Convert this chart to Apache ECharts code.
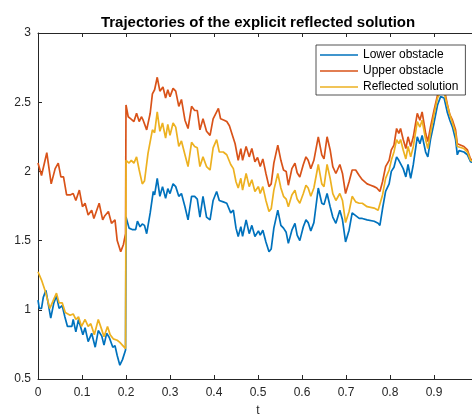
<!DOCTYPE html>
<html>
<head>
<meta charset="utf-8">
<script src="https://cdn.jsdelivr.net/npm/echarts@6/dist/echarts.min.js"></script>
<style>
  html, body { margin: 0; padding: 0; background: #fff; overflow: hidden; }
  #chart { width: 484px; height: 416px; }
</style>
</head>
<body>
<div id="chart"></div>
<script>
// 读图得到的三条轨迹 (t, 值)
const tLower = [
  0, 0.003, 0.008, 0.012, 0.018, 0.029, 0.036, 0.042, 0.048, 0.055, 0.061, 0.067, 0.077, 0.080, 0.086, 0.092,
  0.102, 0.107, 0.114, 0.122, 0.130, 0.137, 0.145, 0.150, 0.156, 0.162, 0.170, 0.175, 0.180, 0.186, 0.192, 0.199,
  0.200, 0.207, 0.214, 0.222, 0.226, 0.232, 0.237, 0.242, 0.247, 0.255, 0.262, 0.265, 0.271, 0.277, 0.283, 0.290,
  0.295, 0.300, 0.307, 0.313, 0.320, 0.326, 0.334, 0.341, 0.349, 0.356, 0.362, 0.368, 0.375, 0.383, 0.391, 0.398,
  0.406, 0.412, 0.421, 0.429, 0.438, 0.444, 0.450, 0.455, 0.461, 0.465, 0.473, 0.480, 0.486, 0.493, 0.501, 0.505,
  0.511, 0.518, 0.525, 0.530, 0.536, 0.545, 0.552, 0.558, 0.564, 0.569, 0.577, 0.584, 0.589, 0.595, 0.603, 0.609,
  0.614, 0.620, 0.627, 0.637, 0.645, 0.650, 0.657, 0.664, 0.670, 0.677, 0.686, 0.692, 0.699, 0.707, 0.714, 0.722,
  0.730, 0.737, 0.748, 0.764, 0.773, 0.777, 0.783, 0.790, 0.798, 0.803, 0.809, 0.815, 0.820, 0.824, 0.830, 0.836,
  0.841, 0.847, 0.853, 0.862, 0.868, 0.873, 0.881, 0.886, 0.892, 0.900, 0.908, 0.915, 0.923, 0.930, 0.936, 0.942,
  0.949, 0.953, 0.957, 0.968, 0.976, 0.983, 1.0
]
const lower = [
  1.07, 1.01, 1.01, 1.09, 1.14, 0.94, 1.05, 1.10, 1.01, 1.03, 0.95, 0.88, 0.88, 0.93, 0.84, 0.93,
  0.82, 0.87, 0.77, 0.83, 0.73, 0.85, 0.81, 0.745, 0.83, 0.80, 0.73, 0.74, 0.67, 0.60, 0.64, 0.71,
  1.67, 1.59, 1.58, 1.58, 1.64, 1.60, 1.62, 1.61, 1.55, 1.70, 1.855, 1.83, 1.95, 1.82, 1.89, 1.805,
  1.875, 1.84, 1.91, 1.89, 1.82, 1.84, 1.745, 1.65, 1.82, 1.82, 1.80, 1.67, 1.82, 1.67, 1.65, 1.79,
  1.855, 1.79, 1.78, 1.77, 1.70, 1.72, 1.59, 1.53, 1.60, 1.53, 1.65, 1.55, 1.61, 1.53, 1.57, 1.54,
  1.575, 1.49, 1.42, 1.44, 1.59, 1.72, 1.61, 1.59, 1.56, 1.48, 1.575, 1.625, 1.54, 1.50, 1.60, 1.65,
  1.63, 1.57, 1.63, 1.88, 1.77, 1.76, 1.84, 1.745, 1.67, 1.625, 1.72, 1.65, 1.49, 1.575, 1.70, 1.68,
  1.66, 1.66, 1.65, 1.64, 1.625, 1.61, 1.73, 1.855, 1.91, 2.00, 2.03, 2.105, 2.08, 2.09, 2.02, 1.96,
  2.05, 1.95, 2.05, 2.25, 2.20, 2.26, 2.14, 2.105, 2.23, 2.35, 2.48, 2.54, 2.53, 2.43, 2.37, 2.32,
  2.23, 2.12, 2.15, 2.14, 2.12, 2.07, 2.05
]

const tUpper = [
  0, 0.008, 0.020, 0.030, 0.039, 0.046, 0.052, 0.058, 0.065, 0.073, 0.080, 0.086, 0.094, 0.101, 0.107, 0.114,
  0.122, 0.127, 0.139, 0.147, 0.152, 0.160, 0.167, 0.175, 0.180, 0.188, 0.194, 0.199,
  0.200, 0.205, 0.211, 0.218, 0.224, 0.230, 0.235, 0.239, 0.247, 0.255, 0.260, 0.265, 0.271, 0.277, 0.284, 0.290,
  0.295, 0.300, 0.307, 0.313, 0.320, 0.326, 0.334, 0.341, 0.349, 0.356, 0.362, 0.368, 0.375, 0.383, 0.391, 0.398,
  0.410, 0.415, 0.423, 0.429, 0.435, 0.442, 0.448, 0.455, 0.461, 0.465, 0.473, 0.480, 0.486, 0.493, 0.499, 0.505,
  0.511, 0.518, 0.525, 0.530, 0.536, 0.545, 0.552, 0.558, 0.564, 0.569, 0.577, 0.584, 0.589, 0.595, 0.603, 0.609,
  0.614, 0.620, 0.627, 0.637, 0.645, 0.650, 0.657, 0.664, 0.670, 0.677, 0.686, 0.692, 0.699, 0.707, 0.714, 0.722,
  0.730, 0.737, 0.748, 0.756, 0.764, 0.770, 0.777, 0.783, 0.790, 0.798, 0.803, 0.809, 0.815, 0.820, 0.824, 0.830,
  0.836, 0.841, 0.847, 0.853, 0.862, 0.868, 0.873, 0.881, 0.886, 0.892, 0.900, 0.908, 0.915, 0.923, 0.930, 0.936,
  0.942, 0.949, 0.953, 0.957, 0.968, 0.976, 0.983, 1.0
]
const upper = [
  2.06, 1.97, 2.135, 1.91, 2.02, 2.06, 1.96, 1.96, 1.83, 1.83, 1.84, 1.79, 1.865, 1.745, 1.77, 1.685,
  1.72, 1.66, 1.77, 1.65, 1.68, 1.71, 1.625, 1.65, 1.50, 1.42, 1.47, 1.55,
  2.48, 2.395, 2.38, 2.36, 2.42, 2.36, 2.395, 2.37, 2.30, 2.42, 2.56, 2.59, 2.68, 2.58, 2.61, 2.53,
  2.59, 2.54, 2.60, 2.58, 2.47, 2.52, 2.37, 2.31, 2.47, 2.44, 2.44, 2.30, 2.38, 2.29, 2.26, 2.38,
  2.455, 2.38, 2.37, 2.36, 2.33, 2.26, 2.20, 2.08, 2.165, 2.08, 2.18, 2.105, 2.165, 2.07, 2.10, 2.035,
  2.09, 1.985, 1.89, 1.91, 2.06, 2.19, 2.08, 2.01, 2.00, 1.90, 2.02, 2.06, 1.99, 1.96, 2.05, 2.105,
  2.08, 2.02, 2.08, 2.25, 2.12, 2.09, 2.25, 2.155, 2.035, 1.985, 2.05, 1.985, 1.84, 1.925, 2.01, 2.01,
  1.97, 1.94, 1.91, 1.90, 1.89, 1.88, 1.855, 1.925, 2.035, 2.08, 2.155, 2.19, 2.31, 2.275, 2.31, 2.23,
  2.165, 2.25, 2.18, 2.25, 2.42, 2.37, 2.43, 2.275, 2.215, 2.32, 2.44, 2.55, 2.62, 2.60, 2.49, 2.41,
  2.37, 2.30, 2.20, 2.19, 2.18, 2.155, 2.09, 2.06
]

const tReflected = [
  0, 0.008, 0.016, 0.020, 0.027, 0.035, 0.042, 0.048, 0.055, 0.062, 0.073, 0.080, 0.086, 0.092, 0.099, 0.107,
  0.114, 0.120, 0.128, 0.137, 0.145, 0.150, 0.158, 0.164, 0.171, 0.180, 0.186, 0.199,
  0.200, 0.207, 0.212, 0.218, 0.224, 0.230, 0.237, 0.242, 0.250, 0.260, 0.265, 0.271, 0.277, 0.283, 0.290, 0.295,
  0.300, 0.307, 0.313, 0.320, 0.326, 0.334, 0.341, 0.349, 0.356, 0.362, 0.368, 0.375, 0.383, 0.391, 0.398,
  0.406, 0.412, 0.421, 0.429, 0.433, 0.438, 0.444, 0.450, 0.455, 0.461, 0.465, 0.473, 0.480, 0.486, 0.493, 0.501,
  0.505, 0.511, 0.518, 0.525, 0.530, 0.536, 0.545, 0.552, 0.558, 0.564, 0.569, 0.577, 0.584, 0.589, 0.595, 0.603,
  0.609, 0.614, 0.620, 0.627, 0.637, 0.645, 0.650, 0.657, 0.664, 0.670, 0.677, 0.686, 0.692, 0.699, 0.707, 0.714,
  0.722, 0.730, 0.737, 0.748, 0.764, 0.773, 0.777, 0.783, 0.790, 0.798, 0.803, 0.809, 0.815, 0.820, 0.824, 0.830,
  0.836, 0.841, 0.847, 0.853, 0.862, 0.868, 0.873, 0.881, 0.886, 0.892, 0.900, 0.908, 0.915, 0.923, 0.930, 0.936,
  0.942, 0.949, 0.953, 0.957, 0.968, 0.976, 0.983, 1.0
]
const reflected = [
  1.275, 1.215, 1.14, 1.15, 1.01, 1.07, 1.12, 1.05, 1.05, 0.98, 0.96, 0.97, 0.93, 0.95, 0.88, 0.93,
  0.88, 0.90, 0.82, 0.93, 0.855, 0.805, 0.88, 0.82, 0.79, 0.78, 0.765, 0.72,
  2.08, 2.06, 2.08, 2.06, 2.105, 2.01, 1.91, 1.93, 2.13, 2.30, 2.28, 2.43, 2.29, 2.35, 2.24, 2.34,
  2.26, 2.35, 2.32, 2.18, 2.22, 2.12, 2.035, 2.21, 2.18, 2.17, 2.035, 2.105, 2.035, 2.01, 2.17,
  2.23, 2.14, 2.14, 2.12, 2.11, 2.05, 2.02, 1.925, 1.88, 1.95, 1.865, 1.985, 1.89, 1.94, 1.855, 1.89,
  1.84, 1.89, 1.79, 1.71, 1.73, 1.865, 1.985, 1.88, 1.82, 1.80, 1.745, 1.83, 1.865, 1.80, 1.77, 1.84,
  1.90, 1.88, 1.82, 1.88, 2.05, 1.91, 1.89, 2.05, 1.95, 1.84, 1.79, 1.84, 1.79, 1.63, 1.71, 1.82,
  1.78, 1.77, 1.77, 1.745, 1.735, 1.72, 1.71, 1.83, 1.95, 2.01, 2.08, 2.14, 2.23, 2.20, 2.23, 2.155,
  2.09, 2.18, 2.105, 2.18, 2.36, 2.32, 2.37, 2.23, 2.165, 2.275, 2.41, 2.53, 2.58, 2.57, 2.48, 2.41,
  2.35, 2.275, 2.18, 2.17, 2.165, 2.14, 2.08, 2.055
]

const seriesNames = ['Lower obstacle', 'Upper obstacle', 'Reflected solution']
const seriesColors = ['#0072BD', '#D95319', '#EDB120']

const zip = (ts, vs) => ts.map((t, i) => [t, vs[i]])
const font = 'Liberation Sans, Arial, Helvetica, sans-serif'
const axisColor = '#262626'

// 画布比窗口宽一点，t=1 那一侧落在窗口外面（和原图一样被裁掉）
const chart = echarts.init(document.getElementById('chart'))

const baseX = {
  type: 'value',
  min: 0,
  max: 1,
  interval: 0.1,
  splitLine: { show: false },
  axisLine: { onZero: false, lineStyle: { color: axisColor, width: 1 } },
  axisTick: { inside: true, length: 4, lineStyle: { color: axisColor } }
}

chart.setOption({
  animation: false,
  color: seriesColors,
  title: {
    text: 'Trajectories of the explicit reflected solution',
    left: 253,
    top: 10,
    textAlign: 'center',
    textStyle: { fontFamily: font, fontSize: 15, fontWeight: 'bold', color: '#000' }
  },
  // v6 默认会为了放下刻度文字而缩小网格，这里关掉
  grid: { left: 38, top: 33, width: 440, height: 346, containLabel: false, outerBoundsMode: 'none' },
  legend: {
    data: seriesNames,
    orient: 'vertical',
    left: 316,
    top: 45,
    icon: 'rect',
    itemWidth: 38,
    itemHeight: 1.5,
    itemGap: 0,
    padding: [2, 7, 0, 4],
    selectedMode: false,
    backgroundColor: '#fff',
    borderColor: axisColor,
    borderWidth: 0.8,
    textStyle: { fontFamily: font, fontSize: 12, color: '#000', lineHeight: 16 }
  },
  xAxis: [
    Object.assign({}, baseX, {
      position: 'bottom',
      name: 't',
      nameLocation: 'middle',
      nameGap: 26,
      nameTextStyle: { fontFamily: font, fontSize: 12, color: axisColor },
      axisLabel: { margin: 8, fontFamily: font, fontSize: 12, color: axisColor }
    }),
    Object.assign({}, baseX, {
      position: 'top',
      axisLabel: { show: false }
    })
  ],
  yAxis: {
    type: 'value',
    min: 0.5,
    max: 3,
    interval: 0.5,
    splitLine: { show: false },
    axisLine: { show: true, onZero: false, lineStyle: { color: axisColor, width: 1 } },
    axisTick: { show: true, inside: true, length: 4, lineStyle: { color: axisColor } },
    axisLabel: { margin: 7, fontFamily: font, fontSize: 12, color: axisColor }
  },
  series: [
    { name: seriesNames[0], type: 'line', data: zip(tLower, lower) },
    { name: seriesNames[1], type: 'line', data: zip(tUpper, upper) },
    { name: seriesNames[2], type: 'line', data: zip(tReflected, reflected) }
  ].map((s, i) => Object.assign(s, {
    showSymbol: false,
    symbol: 'none',
    lineStyle: { width: 1.7, color: seriesColors[i] },
    itemStyle: { color: seriesColors[i] }
  }))
})
</script>
</body>
</html>
